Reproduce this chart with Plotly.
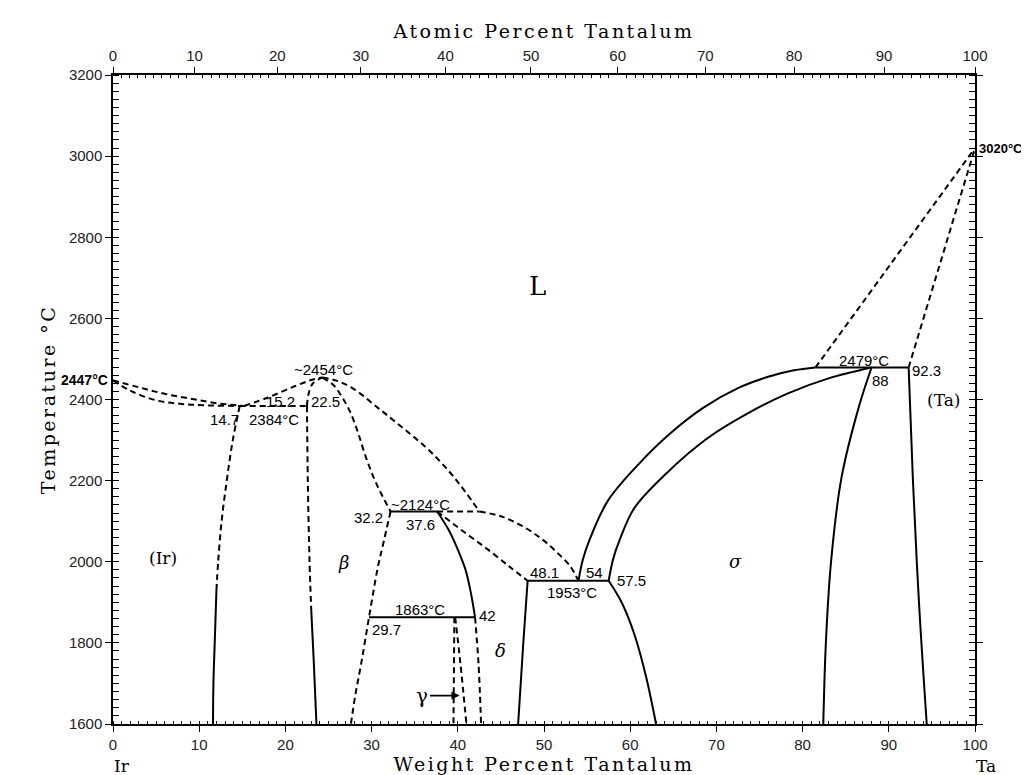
import plotly.graph_objects as go

# ---------------- data: phase boundaries (wt% Ta, temperature °C) ----------------
liq_ir_wt = [0, 3, 6, 9, 12, 15.2]
liq_ir_T = [2447, 2430, 2414, 2402, 2391, 2384]
sol_ir_wt = [0, 2, 5, 8, 11, 14.7]
sol_ir_T = [2447, 2422, 2398, 2389, 2385.5, 2384]
eut_wt = [14.7, 22.5]
eut_T = [2384, 2384]

liq_bl_wt = [15.2, 18, 21, 23, 24.3]
liq_bl_T = [2384, 2405, 2432, 2448, 2454]
sol_bl_wt = [22.5, 22.7, 23.2, 24.3]
sol_bl_T = [2384, 2415, 2440, 2454]
sol_br_wt = [24.3, 25.6, 26.6, 27.5, 28.4, 29.3, 30.5, 32.2]
sol_br_T = [2454, 2435, 2405, 2370, 2320, 2260, 2195, 2124]
liq_br_wt = [24.3, 26, 28, 30.7, 33.5, 36.5, 39.5, 42.5]
liq_br_T = [2454, 2446, 2425, 2380, 2332, 2278, 2210, 2124]

ir_solv_dash_wt = [14.7, 13.9, 13.2, 12.6, 12.2, 12.0]
ir_solv_dash_T = [2384, 2300, 2200, 2100, 2000, 1930]
ir_solv_wt = [12.0, 11.8, 11.65, 11.6]
ir_solv_T = [1930, 1800, 1700, 1600]

beta_l_dash_wt = [22.5, 22.6, 22.8, 23.0]
beta_l_dash_T = [2384, 2200, 2000, 1880]
beta_l_wt = [23.0, 23.3, 23.6]
beta_l_T = [1880, 1750, 1600]

beta_r_wt = [32.2, 31.3, 30.7, 29.7, 28.8, 28.1, 27.6]
beta_r_T = [2124, 2040, 1984, 1863, 1750, 1670, 1600]

delta_l_wt = [37.6, 38.9, 40.0, 40.9, 41.5, 42.0]
delta_l_T = [2124, 2080, 2030, 1980, 1925, 1863]
delta_l_dash_wt = [42.0, 42.4, 42.7]
delta_l_dash_T = [1863, 1750, 1600]

gamma_l_wt = [39.6, 39.5]
gamma_l_T = [1863, 1600]
gamma_r_wt = [39.7, 40.3, 41.0]
gamma_r_T = [1863, 1750, 1600]

per1863_wt = [29.7, 42.0]
per1863_T = [1863, 1863]
per2124_wt = [32.2, 37.6]
per2124_T = [2124, 2124]
per2124_dash_wt = [37.6, 42.5]
per2124_dash_T = [2124, 2124]

delta_sol_wt = [37.6, 40.5, 43.5, 46.0, 48.1]
delta_sol_T = [2124, 2077, 2030, 1988, 1953]
liq_mid_wt = [42.5, 45, 47.3, 49.5, 51.3, 53, 54]
liq_mid_T = [2124, 2112, 2090, 2060, 2027, 1990, 1953]

eut1953_wt = [48.1, 57.5]
eut1953_T = [1953, 1953]
p48_wt = [48.1, 47.6, 47.0]
p48_T = [1953, 1800, 1600]
sig_l_wt = [57.5, 59, 60.5, 61.8, 63]
sig_l_T = [1953, 1900, 1820, 1720, 1600]

sig_liq_wt = [54, 54.5, 55.3, 57.4, 60.9, 64.4, 68.5, 72.5, 76, 79, 81.5]
sig_liq_T = [1953, 2005, 2055, 2150, 2239, 2312, 2380, 2428, 2456, 2472, 2479]
sig_sol_wt = [57.5, 58.0, 58.8, 60.5, 64, 69, 74, 78.3, 83, 88]
sig_sol_T = [1953, 2005, 2055, 2133, 2214, 2305, 2370, 2415, 2452, 2479]
sig_r_wt = [88, 86.5, 84.5, 83.3, 82.7, 82.4]
sig_r_T = [2479, 2380, 2206, 2000, 1800, 1600]
ta_solv_wt = [92.3, 92.8, 93.5, 94.4]
ta_solv_T = [2479, 2200, 1900, 1600]
per2479_wt = [81.5, 92.3]
per2479_T = [2479, 2479]
ta_liq_wt = [81.5, 100]
ta_liq_T = [2479, 3020]
ta_sol_wt = [92.3, 100]
ta_sol_T = [2479, 3020]

solid_lines = [
    (ir_solv_wt, ir_solv_T), (beta_l_wt, beta_l_T), (delta_l_wt, delta_l_T),
    (per1863_wt, per1863_T), (per2124_wt, per2124_T), (eut1953_wt, eut1953_T),
    (p48_wt, p48_T), (sig_l_wt, sig_l_T), (sig_liq_wt, sig_liq_T),
    (sig_sol_wt, sig_sol_T), (sig_r_wt, sig_r_T), (ta_solv_wt, ta_solv_T),
    (per2479_wt, per2479_T),
]
dashed_lines = [
    (liq_ir_wt, liq_ir_T), (sol_ir_wt, sol_ir_T), (eut_wt, eut_T),
    (liq_bl_wt, liq_bl_T), (sol_bl_wt, sol_bl_T), (sol_br_wt, sol_br_T),
    (liq_br_wt, liq_br_T), (ir_solv_dash_wt, ir_solv_dash_T),
    (beta_l_dash_wt, beta_l_dash_T), (beta_r_wt, beta_r_T),
    (delta_l_dash_wt, delta_l_dash_T), (gamma_l_wt, gamma_l_T),
    (gamma_r_wt, gamma_r_T), (per2124_dash_wt, per2124_dash_T),
    (delta_sol_wt, delta_sol_T), (liq_mid_wt, liq_mid_T),
    (ta_liq_wt, ta_liq_T), (ta_sol_wt, ta_sol_T),
]

# numeric labels (text, wt%, °C)
num_labels = ["~2454°C", "15.2", "14.7", "2384°C", "22.5", "~2124°C", "32.2", "37.6",
              "48.1", "54", "57.5", "1953°C", "1863°C", "42", "29.7",
              "2479°C", "88", "92.3"]
num_x = [24.4, 19.4, 12.9, 18.7, 24.7, 35.7, 29.6, 35.7,
         50.0, 55.9, 60.1, 53.2, 35.6, 43.4, 31.7,
         87.1, 89.0, 94.4]
num_y = [2473, 2394, 2350, 2350, 2394, 2140, 2108, 2091,
         1973, 1973, 1955, 1924, 1882, 1867, 1832,
         2497, 2448, 2472]

phase_labels = ["L", "(Ir)", "(Ta)", "β", "δ", "σ"]
phase_x = [49.3, 5.8, 96.3, 26.7, 44.9, 72.2]
phase_y = [2680, 2010, 2398, 1997, 1780, 2000]

# axes
temp_ticks = [1600, 1800, 2000, 2200, 2400, 2600, 2800, 3000, 3200]
wt_ticks = [0, 10, 20, 30, 40, 50, 60, 70, 80, 90, 100]
at_ticks = [0, 10, 20, 30, 40, 50, 60, 70, 80, 90, 100]
M_TA, M_IR = 180.948, 192.217


def at_to_wt(a):
    if a <= 0:
        return 0.0
    if a >= 100:
        return 100.0
    return 100.0 * a * M_TA / (a * M_TA + (100 - a) * M_IR)


at_tick_pos = [at_to_wt(a) for a in at_ticks]
at_minor_pos = [at_to_wt(a) for a in range(0, 101) if a % 10 != 0]

fig = go.Figure()
for xs, ys in solid_lines:
    fig.add_trace(go.Scatter(x=xs, y=ys, mode="lines", line=dict(color="black", width=2),
                             showlegend=False, hoverinfo="skip", line_shape="spline"))
for xs, ys in dashed_lines:
    fig.add_trace(go.Scatter(x=xs, y=ys, mode="lines",
                             line=dict(color="black", width=2, dash="6px,4px"),
                             showlegend=False, hoverinfo="skip", line_shape="spline"))
# dummy trace for top axis
fig.add_trace(go.Scatter(x=[0, 100], y=[1600, 1600], xaxis="x2", mode="lines",
                         line=dict(width=0), showlegend=False, hoverinfo="skip", opacity=0))

sans = "Liberation Sans, Arial, sans-serif"
serif = "DejaVu Serif, Liberation Serif, serif"

for t, x, y in zip(num_labels, num_x, num_y):
    fig.add_annotation(x=x, y=y, text=t, showarrow=False, xanchor="center", yanchor="middle",
                       font=dict(family=sans, size=15, color="black"))

for t, x, y in zip(phase_labels, phase_x, phase_y):
    if t == "L":
        f = dict(family=serif, size=26, color="black")
        txt = t
    elif t.startswith("("):
        f = dict(family=serif, size=17, color="black")
        txt = t
    else:
        f = dict(family=serif, size=18, color="black")
        txt = "<i>" + t + "</i>"
    fig.add_annotation(x=x, y=y, text=txt, showarrow=False, font=f)

# gamma label with arrow
fig.add_annotation(x=40.2, y=1670, ax=35.9, ay=1670, axref="x", ayref="y", text="γ",
                   showarrow=True, arrowhead=2, arrowsize=1, arrowwidth=1.6, standoff=0,
                   arrowcolor="black", font=dict(family=serif, size=20, color="black"))

# melting points outside the plot (paper x so they are not hidden)
fig.add_annotation(x=1.003, xref="paper", y=3020, yref="y", text="<b>3020°C</b>",
                   showarrow=False, xanchor="left", borderpad=0,
                   font=dict(family=sans, size=13, color="black"))
fig.add_annotation(x=-0.004, xref="paper", y=2447, yref="y", text="<b>2447°C</b>",
                   showarrow=False, xanchor="right",
                   font=dict(family=sans, size=14, color="black"))

# element labels
fig.add_annotation(x=0, y=-0.064, xref="paper", yref="paper", text="Ir", showarrow=False,
                   xanchor="left", yanchor="middle", borderpad=0,
                   font=dict(family=serif, size=17, color="black"))
fig.add_annotation(x=1.0, y=-0.064, xref="paper", yref="paper", text="Ta", showarrow=False,
                   xanchor="left", yanchor="middle", borderpad=0,
                   font=dict(family=serif, size=17, color="black"))

axis_title_font = dict(family=serif, size=19, color="black")

fig.update_layout(
    width=1029, height=775,
    margin=dict(l=105, r=62, t=67, b=59),
    plot_bgcolor="white", paper_bgcolor="white",
    xaxis=dict(range=[0, 100], tickvals=wt_ticks, showgrid=False, zeroline=False,
               showline=True, linecolor="black", linewidth=1.5, ticks="outside", ticklen=6,
               tickcolor="black", tickfont=dict(family=sans, size=15, color="#222"),
               minor=dict(dtick=1, ticks="inside", ticklen=3, tickcolor="black"),
               title=dict(text='<span style="letter-spacing:2.5px">Weight Percent Tantalum</span>',
                          font=axis_title_font, standoff=2)),
    xaxis2=dict(range=[0, 100], overlaying="x", side="top", tickmode="array",
                tickvals=at_tick_pos, ticktext=[str(a) for a in at_ticks], showgrid=False,
                zeroline=False, showline=True, linecolor="black", linewidth=1.5,
                ticks="outside", ticklen=6, tickcolor="black",
                tickfont=dict(family=sans, size=15, color="#222"),
                minor=dict(tickvals=at_minor_pos, ticks="inside", ticklen=3, tickcolor="black"),
                title=dict(text='<span style="letter-spacing:2.5px">Atomic Percent Tantalum</span>',
                           font=axis_title_font, standoff=4)),
    yaxis=dict(range=[1600, 3200], tickvals=temp_ticks, showgrid=False, zeroline=False,
               showline=True, linecolor="black", linewidth=1.5, mirror="allticks",
               ticks="outside", ticklen=6, tickcolor="black",
               tickfont=dict(family=sans, size=15, color="#222"),
               minor=dict(dtick=20, ticks="inside", ticklen=3, tickcolor="black"),
               title=dict(text='<span style="letter-spacing:2.5px">Temperature °C</span>',
                          font=axis_title_font, standoff=8)),
)

fig.write_html("out.html")
